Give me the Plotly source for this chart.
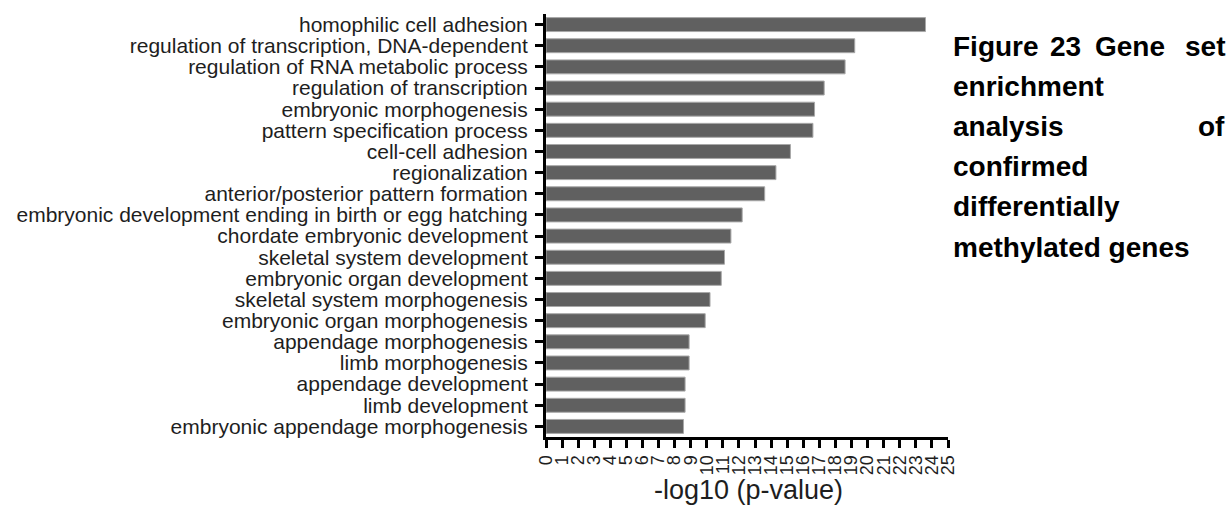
import plotly.graph_objects as go

# GO terms, listed top to bottom
terms = [
    "homophilic cell adhesion",
    "regulation of transcription, DNA-dependent",
    "regulation of RNA metabolic process",
    "regulation of transcription",
    "embryonic morphogenesis",
    "pattern specification process",
    "cell-cell adhesion",
    "regionalization",
    "anterior/posterior pattern formation",
    "embryonic development ending in birth or egg hatching",
    "chordate embryonic development",
    "skeletal system development",
    "embryonic organ development",
    "skeletal system morphogenesis",
    "embryonic organ morphogenesis",
    "appendage morphogenesis",
    "limb morphogenesis",
    "appendage development",
    "limb development",
    "embryonic appendage morphogenesis",
]

# -log10(p-value) per term
neg_log_p = [
    23.6, 19.2, 18.6, 17.3, 16.7, 16.6, 15.2, 14.3, 13.6, 12.2,
    11.5, 11.1, 10.9, 10.2, 9.9, 8.9, 8.9, 8.65, 8.65, 8.55,
]

x_ticks = list(range(0, 26))
x_title = "-log10 (p-value)"

caption_lines = [
    ["Figure", "23", "Gene", "set"],
    ["enrichment"],
    ["analysis", "of"],
    ["confirmed"],
    ["differentially"],
    ["methylated genes"],
]

W, H = 1231, 515
L, R, T, B = 546, 283, 14, 78
plot_w = W - L - R
plot_h = H - T - B
FONT = "Liberation Sans, Arial, sans-serif"
TEXT = "#1e1e1e"

row_pos = list(range(len(terms)))

fig = go.Figure()
fig.add_trace(go.Bar(
    x=neg_log_p,
    y=row_pos,
    orientation="h",
    marker=dict(color="#606060", line=dict(color="#a8a8a8", width=1)),
    width=0.66,
    showlegend=False,
    customdata=terms,
    hovertemplate="%{customdata}: %{x}<extra></extra>",
))

fig.update_layout(
    width=W, height=H,
    margin=dict(l=L, r=R, t=T, b=B, pad=0),
    paper_bgcolor="white",
    plot_bgcolor="white",
    font=dict(family=FONT, color=TEXT),
)

fig.update_xaxes(
    range=[0, 25],
    tickmode="array",
    tickvals=x_ticks,
    ticktext=[str(v) for v in x_ticks],
    tickangle=-90,
    tickfont=dict(size=18, color=TEXT),
    ticks="outside", ticklen=8, tickwidth=2.5, tickcolor="black",
    showline=True, linecolor="black", linewidth=3,
    showgrid=False, zeroline=False,
)

fig.update_yaxes(
    range=[len(terms) - 0.5, -0.5],
    tickmode="array",
    tickvals=row_pos,
    ticktext=terms,
    tickfont=dict(size=21, color=TEXT),
    ticks="outside", ticklen=8, tickwidth=2.5, tickcolor="black",
    ticklabelstandoff=3,
    showline=True, linecolor="black", linewidth=3,
    showgrid=False, zeroline=False,
)


def px_to_paper_x(px):
    return (px - L) / plot_w


def px_to_paper_y(py):
    return (H - B - py) / plot_h


annotations = []
# axis title
annotations.append(dict(
    text=x_title, x=px_to_paper_x(748), y=px_to_paper_y(490),
    xref="paper", yref="paper", xanchor="center", yanchor="middle",
    showarrow=False, font=dict(size=27, color=TEXT),
))

# justified caption block on the right
cap_left, cap_right = 951, 1227
cap_top, cap_step = 46, 40.2
cfont = dict(size=28, color="black", family=FONT)
for i, words in enumerate(caption_lines):
    yy = px_to_paper_y(cap_top + i * cap_step)
    if len(words) == 1:
        xs, anchors = [cap_left], ["left"]
    elif len(words) == 2:
        xs, anchors = [cap_left, cap_right], ["left", "right"]
    else:
        xs, anchors = [cap_left, 1048, 1093, cap_right], ["left", "left", "left", "right"]
    for w, wx, an in zip(words, xs, anchors):
        annotations.append(dict(
            text="<b>%s</b>" % w, x=px_to_paper_x(wx), y=yy,
            xref="paper", yref="paper", xanchor=an, yanchor="middle",
            showarrow=False, font=cfont,
        ))

fig.update_layout(annotations=annotations)

fig.write_html("out.html")
